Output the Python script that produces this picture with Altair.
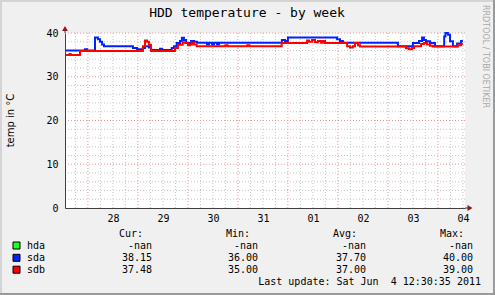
import json
import altair as alt
import pandas as pd

# ---- data: time in hours since 2011-05-27 00:00, temperatures in °C ----
sda_hours = [13, 22.6, 23.6, 27.4, 28.8, 29.8, 30.8, 31.7, 45.6, 47.6, 50.4, 51.4, 53.3, 54.3,
             58.6, 59.6, 64.2, 65.3, 66.6, 68.2, 69.1, 70.1, 71.1, 73.5, 74.9, 76.4, 81.2, 82.1,
             83.6, 84.5, 86.0, 86.9, 117.1, 118.6, 120.0, 143.6, 145.0, 146.4, 172.8, 180.0,
             182.9, 184.4, 185.3, 186.3, 188.2, 190.6, 195.0, 195.6, 196.8, 197.8, 199.2, 201.2,
             203.1, 204.0]
sda_temp = [36.0, 36.3, 36.0, 39.0, 38.6, 38.0, 37.4, 37.0, 36.6, 36.3, 36.6, 37.0, 36.7, 36.1,
            36.4, 36.1, 36.6, 37.0, 37.7, 38.2, 38.9, 38.4, 37.7, 38.2, 38.0, 37.8, 37.4, 37.8,
            37.4, 37.8, 37.4, 37.8, 38.4, 38.2, 39.0, 38.6, 38.2, 37.8, 37.0, 37.7,
            38.2, 39.0, 38.4, 38.1, 37.7, 37.0, 39.2, 40.0, 39.6, 38.1, 37.0, 37.6,
            38.15, 38.15]

sdb_hours = [13, 15.2, 15.7, 20.2, 50.4, 51.4, 52.4, 53.3, 54.3, 65.8, 67.2, 69.5, 70.6, 72.0,
             73.0, 74.0, 74.9, 76.2, 90.0, 91.0, 100.5, 101.5, 117.0, 129.2, 130.1, 131.6, 133.0,
             134.4, 135.9, 136.8, 137.8, 148.4, 149.8, 151.2, 152.2, 153.6, 154.6, 176.7, 178.1,
             179.6, 180.5, 183.9, 185.3, 186.8, 188.2, 189.6, 201.6, 203.1, 204.0]
sdb_temp = [35.0, 35.2, 35.0, 35.9, 37.0, 38.3, 38.0, 37.3, 35.9, 36.6, 37.3, 37.9, 37.8, 37.2,
            37.4, 37.7, 37.4, 37.0, 37.2, 37.0, 37.2, 37.0, 37.7, 38.3, 38.0, 38.4, 37.9,
            38.2, 37.8, 38.2, 37.7, 37.0, 36.7, 37.0, 37.7, 37.2, 36.9, 36.5, 36.3,
            36.6, 37.0, 37.5, 37.7, 37.4, 37.1, 36.9, 37.2, 37.48, 37.48]

day_tick_hours = [36, 60, 84, 108, 132, 156, 180, 204]
day_labels = ["28", "29", "30", "31", "01", "02", "03", "04"]
midnight_hours = [24, 48, 72, 96, 120, 144, 168, 192]
six_hour_hours = [18, 30, 36, 42, 54, 60, 66, 78, 84, 90, 102, 108, 114, 126, 132, 138,
                  150, 156, 162, 174, 180, 186, 198, 204]
y_ticks = [0, 10, 20, 30, 40]
y_minor = [2, 4, 6, 8, 12, 14, 16, 18, 22, 24, 26, 28, 32, 34, 36, 38]
y_major = [10, 20, 30, 40]

series_names = ["hda", "sda", "sdb"]
series_colors = ["#22FF22", "#0022FF", "#FF0000"]
stat_headers = ["Cur:", "Min:", "Avg:", "Max:"]
hda_stats = ["-nan", "-nan", "-nan", "-nan"]
sda_stats = ["38.15", "36.00", "37.70", "40.00"]
sdb_stats = ["37.48", "35.00", "37.00", "39.00"]

title_text = "HDD temperature - by week"
y_title = "temp in °C"
watermark = "RRDTOOL / TOBI OETIKER"
last_update = "Last update: Sat Jun\u00a0 4 12:30:35 2011"

MONO = "DejaVu Sans Mono"
SANS = "DejaVu Sans"
AXIS_COLOR = "#404040"

xscale = alt.Scale(domain=[13, 205], nice=False, zero=False)
yscale = alt.Scale(domain=[0, 40], nice=False, zero=True)

label_expr = json.dumps(day_labels) + "[round((datum.value - 36) / 24)]"

XAXIS = alt.Axis(
    values=day_tick_hours, labelExpr=label_expr, title=None, ticks=False, grid=False,
    labelFont=MONO, labelFontSize=10, labelColor="black", labelPadding=5,
    domainColor=AXIS_COLOR, domainWidth=1, labelFlush=False, zindex=1)
YAXIS = alt.Axis(
    values=y_ticks, title=None, ticks=False, grid=False,
    labelFont=MONO, labelFontSize=10, labelColor="black", labelPadding=7,
    domainColor=AXIS_COLOR, domainWidth=1, labelFlush=False, zindex=1)


def X():
    return alt.X("h:Q", scale=xscale, axis=XAXIS)


def Y():
    return alt.Y("v:Q", scale=yscale, axis=YAXIS)


sda_df = pd.DataFrame({"h": sda_hours, "v": sda_temp})
sdb_df = pd.DataFrame({"h": sdb_hours, "v": sdb_temp})

# grid
vgrid_minor = alt.Chart(pd.DataFrame({"h": six_hour_hours})).mark_rule(
    color="#C8C8C8", strokeDash=[1, 2], strokeWidth=1).encode(x=X())
vgrid_major = alt.Chart(pd.DataFrame({"h": midnight_hours})).mark_rule(
    color="#E89A9A", strokeDash=[1, 2], strokeWidth=1).encode(x=X())
hgrid_minor = alt.Chart(pd.DataFrame({"v": y_minor})).mark_rule(
    color="#C8C8C8", strokeDash=[1, 2], strokeWidth=1).encode(y=Y())
hgrid_major = alt.Chart(pd.DataFrame({"v": y_major})).mark_rule(
    color="#E89A9A", strokeDash=[1, 2], strokeWidth=1).encode(y=Y())

line_sda = alt.Chart(sda_df).mark_line(
    color=series_colors[1], strokeWidth=2, interpolate="step-after").encode(x=X(), y=Y())
line_sdb = alt.Chart(sdb_df).mark_line(
    color=series_colors[2], strokeWidth=2, interpolate="step-after").encode(x=X(), y=Y())

one = pd.DataFrame({"k": [0]})


def txt(s, x, y, align="left", font=MONO, size=10, color="black", angle=0, baseline="middle"):
    return alt.Chart(pd.DataFrame({"t": [s]})).mark_text(
        align=align, baseline=baseline, font=font, fontSize=size, color=color, angle=angle
    ).encode(text="t:N", x=alt.value(x), y=alt.value(y))


def rule(x1, y1, x2, y2, color, width=1):
    return alt.Chart(one).mark_rule(color=color, strokeWidth=width).encode(
        x=alt.value(x1), y=alt.value(y1), x2=alt.value(x2), y2=alt.value(y2))


layers = [vgrid_minor, hgrid_minor, vgrid_major, hgrid_major, line_sda, line_sdb]

# axis extensions and arrows
layers.append(rule(0, -5, 0, 0, AXIS_COLOR))
layers.append(rule(400, 175, 405, 175, AXIS_COLOR))
layers.append(alt.Chart(one).mark_point(shape="triangle-up", filled=True, size=34,
                                         color="#8B1A1A", opacity=1).encode(
    x=alt.value(0), y=alt.value(-4.5)))
layers.append(alt.Chart(one).mark_point(shape="triangle-right", filled=True, size=34,
                                         color="#8B1A1A", opacity=1).encode(
    x=alt.value(405), y=alt.value(175)))

# texts
layers.append(txt(title_text, 182, -20, align="center", size=13))
layers.append(txt(y_title, -54, 87.5, align="center", font=SANS, size=10, angle=270))
layers.append(txt(watermark, 420, 23.5, align="center", font=SANS, size=8,
                  color="#A8A8A8", angle=90))

header_right = [78, 185, 292, 399]
value_right = [87, 193, 301, 408]
row_y = [212.5, 224.8, 236.7]
for hx, hs in zip(header_right, stat_headers):
    layers.append(txt(hs, hx, 200.5, align="right"))
for ry, name, color, stats in zip(row_y, series_names, series_colors,
                                  [hda_stats, sda_stats, sdb_stats]):
    layers.append(alt.Chart(one).mark_rect(fill=color, stroke="black", strokeWidth=1).encode(
        x=alt.value(-52), x2=alt.value(-45), y=alt.value(ry - 3.5), y2=alt.value(ry + 3.5)))
    layers.append(txt(name, -38, ry))
    for vx, vs in zip(value_right, stats):
        layers.append(txt(vs, vx, ry, align="right"))
layers.append(txt(last_update, 416, 248.5, align="right"))

# frame (3D border)
layers.append(rule(-65, -32, 430, -32, "#D4D4D4", 2))
layers.append(rule(-64, -33, -64, 262, "#D4D4D4", 2))
layers.append(rule(-65, 261, 430, 261, "#9A9A9A", 2))
layers.append(rule(429, -33, 429, 262, "#9A9A9A", 2))

chart = alt.layer(*layers).properties(
    width=400, height=175,
    padding={"left": 65, "top": 33, "right": 30, "bottom": 87},
    autosize=alt.AutoSizeParams(type="none"),
).configure(background="#F0F0F0").configure_view(fill="white", stroke=None)

chart.save("out.html", embed_options={"renderer": "svg", "actions": False})
